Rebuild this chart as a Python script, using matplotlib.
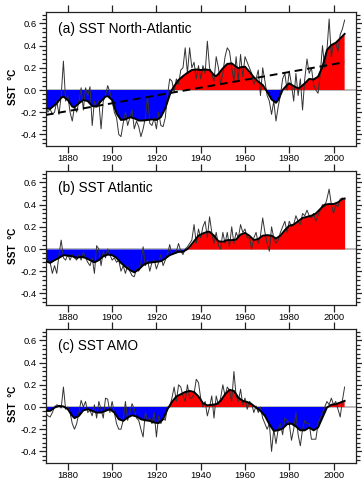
import matplotlib
matplotlib.use("Agg")
import matplotlib.pyplot as plt
from matplotlib.ticker import MultipleLocator, AutoMinorLocator
import numpy as np

plt.rcParams['font.family'] = ['Liberation Sans', 'DejaVu Sans']

years = list(range(1870, 2006))

# (a) North-Atlantic SST anomalies, annual
na_raw = [-0.15, -0.20, -0.17, -0.22, -0.20, -0.10, -0.22, -0.05, 0.26, -0.10,
          -0.05, -0.20, -0.28, -0.15, -0.20, -0.10, 0.02, -0.18, 0.02, -0.05,
          0.03, -0.32, -0.10, -0.15, -0.10, -0.35, -0.10, -0.05, 0.04, -0.02,
          -0.10, -0.20, -0.25, -0.40, -0.42, -0.30, -0.20, -0.32, -0.25, -0.18,
          -0.35, -0.28, -0.33, -0.42, -0.35, -0.25, -0.05, -0.30, -0.32, -0.25,
          -0.35, -0.20, -0.32, -0.33, -0.25, -0.05, 0.10, 0.08, -0.02, 0.10,
          0.05, 0.18, 0.20, 0.38, 0.15, 0.38, 0.20, 0.25, 0.10, 0.22,
          0.10, 0.22, 0.15, 0.44, 0.20, 0.15, 0.08, 0.30, 0.20, 0.05,
          0.15, 0.30, 0.38, 0.35, 0.20, 0.08, 0.30, 0.08, 0.32, 0.12,
          0.30, 0.25, 0.20, 0.15, 0.05, 0.10, 0.18, -0.05, 0.20, 0.08,
          -0.05, -0.10, -0.22, -0.10, -0.28, -0.15, -0.05, 0.10, 0.15, 0.00,
          0.17, 0.05, -0.10, 0.15, -0.05, 0.10, -0.18, 0.10, 0.28, 0.15,
          0.20, 0.05, 0.00, -0.03, 0.15, 0.40, 0.20, 0.35, 0.64, 0.30,
          0.42, 0.42, 0.35, 0.50, 0.55, 0.63]
na_smooth_years = [1870, 1872, 1875, 1877, 1878, 1880, 1882, 1883, 1885, 1887,
                   1889, 1891, 1893, 1895, 1897, 1898, 1900, 1902, 1904, 1906,
                   1908, 1910, 1912, 1914, 1916, 1918, 1920, 1922, 1924, 1926,
                   1927, 1928, 1930, 1932, 1934, 1936, 1938, 1940, 1942, 1944,
                   1946, 1947, 1948, 1950, 1952, 1954, 1956, 1957, 1958, 1960,
                   1962, 1964, 1966, 1968, 1970, 1972, 1974, 1975, 1977, 1979,
                   1980, 1982, 1984, 1985, 1987, 1989, 1991, 1993, 1995, 1997,
                   1999, 2001, 2003, 2005]
na_smooth = [-0.165, -0.17, -0.12, -0.07, -0.06, -0.09, -0.15, -0.155, -0.12, -0.09,
             -0.10, -0.145, -0.15, -0.10, -0.06, -0.055, -0.09, -0.21, -0.27, -0.265,
             -0.245, -0.255, -0.275, -0.275, -0.27, -0.265, -0.27, -0.245, -0.165, -0.045,
             0.0, 0.035, 0.09, 0.125, 0.155, 0.18, 0.185, 0.18, 0.185, 0.18,
             0.135, 0.125, 0.145, 0.195, 0.235, 0.24, 0.21, 0.195, 0.205, 0.21,
             0.165, 0.115, 0.075, 0.045, -0.015, -0.085, -0.115, -0.09, 0.0, 0.045,
             0.06, 0.035, 0.015, 0.025, 0.06, 0.10, 0.095, 0.12, 0.21, 0.36,
             0.405, 0.425, 0.465, 0.505]
na_trend_years = [1870, 2005]
na_trend = [-0.225, 0.25]

# (b) Atlantic SST anomalies, annual
at_raw = [-0.12, -0.10, -0.12, -0.22, -0.15, -0.22, -0.05, 0.08, -0.08, -0.10,
          -0.05, -0.10, -0.05, -0.08, -0.10, -0.05, -0.10, -0.03, -0.08, -0.12,
          -0.15, -0.08, -0.22, 0.03, 0.00, -0.15, -0.02, -0.08, 0.00, -0.05,
          -0.10, -0.08, -0.12, -0.10, -0.20, -0.15, -0.22, -0.15, -0.20, -0.24,
          -0.25, -0.18, -0.20, -0.12, 0.02, -0.15, -0.10, -0.20, -0.12, -0.10,
          -0.18, -0.12, -0.05, -0.15, -0.10, -0.05, 0.04, -0.05, -0.03, -0.02,
          0.05, -0.02, -0.05, 0.00, 0.02, 0.05, 0.08, 0.22, 0.05, 0.18,
          0.10, 0.20, 0.25, 0.10, 0.29, 0.15, 0.05, 0.15, 0.03, 0.00,
          0.15, 0.05, 0.15, 0.02, 0.20, 0.05, 0.15, 0.10, 0.22, 0.15,
          0.18, 0.10, 0.10, 0.00, 0.10, 0.15, 0.05, 0.12, 0.28, 0.15,
          0.05, -0.02, 0.20, 0.10, 0.05, 0.08, 0.15, 0.20, 0.25, 0.15,
          0.25, 0.20, 0.22, 0.30, 0.25, 0.22, 0.32, 0.30, 0.35, 0.30,
          0.28, 0.32, 0.25, 0.30, 0.35, 0.40, 0.38, 0.45, 0.54, 0.40,
          0.32, 0.40, 0.38, 0.45, 0.46, 0.45]
at_smooth_years = [1870, 1872, 1874, 1876, 1878, 1880, 1882, 1884, 1886, 1888,
                   1890, 1892, 1894, 1896, 1898, 1900, 1902, 1904, 1906, 1908,
                   1910, 1912, 1914, 1916, 1918, 1920, 1922, 1924, 1926, 1928,
                   1930, 1932, 1934, 1935, 1937, 1939, 1941, 1943, 1944, 1946,
                   1948, 1950, 1952, 1954, 1956, 1958, 1960, 1962, 1964, 1966,
                   1968, 1970, 1972, 1974, 1976, 1978, 1980, 1982, 1984, 1986,
                   1988, 1990, 1992, 1994, 1996, 1998, 2000, 2002, 2004, 2005]
at_smooth = [-0.11, -0.125, -0.10, -0.08, -0.055, -0.06, -0.065, -0.08, -0.07, -0.08,
             -0.10, -0.12, -0.10, -0.065, -0.05, -0.055, -0.08, -0.125, -0.16, -0.19,
             -0.21, -0.185, -0.145, -0.125, -0.12, -0.115, -0.11, -0.085, -0.055, -0.04,
             -0.025, -0.025, 0.0, 0.02, 0.07, 0.12, 0.14, 0.155, 0.155, 0.12,
             0.07, 0.065, 0.08, 0.08, 0.085, 0.13, 0.145, 0.12, 0.08, 0.09,
             0.12, 0.125, 0.12, 0.095, 0.12, 0.17, 0.21, 0.22, 0.25, 0.28,
             0.29, 0.30, 0.32, 0.36, 0.40, 0.405, 0.405, 0.42, 0.45, 0.455]

# (c) AMO index, annual
amo_raw = [-0.05, -0.08, -0.09, -0.05, 0.00, 0.02, 0.01, -0.01, 0.18, -0.02,
           0.00, -0.05, -0.15, -0.20, -0.15, -0.05, 0.06, 0.00, 0.05, -0.05,
           -0.03, -0.08, 0.02, -0.10, 0.05, -0.02, -0.10, 0.08, 0.07, -0.05,
           0.05, -0.05, -0.15, -0.20, -0.20, -0.12, 0.05, -0.12, -0.05, 0.03,
           -0.02, -0.10, -0.12, -0.20, -0.27, -0.05, -0.12, -0.10, -0.15, -0.05,
           -0.27, -0.08, -0.15, -0.10, -0.12, 0.00, 0.00, 0.08, 0.18, 0.05,
           0.20, 0.18, 0.10, 0.05, 0.20, 0.08, 0.08, 0.12, 0.25, 0.22,
           0.08, 0.00, 0.05, -0.08, 0.00, 0.10, -0.10, 0.10, 0.02, 0.08,
           0.20, 0.10, 0.18, 0.15, 0.05, 0.32, 0.10, 0.05, 0.16, 0.02,
           0.08, -0.02, 0.05, 0.03, -0.05, 0.01, -0.05, 0.00, -0.10, -0.15,
           -0.20, -0.15, -0.40, -0.20, -0.33, -0.20, -0.15, -0.25, -0.10, -0.12,
           -0.15, -0.30, -0.20, -0.05, -0.25, -0.35, -0.20, -0.12, -0.15, -0.15,
           -0.29, -0.29, -0.29, -0.15, -0.10, -0.05, 0.00, 0.05, 0.02, 0.08,
           0.02, 0.05, -0.02, -0.09, 0.06, 0.18]
amo_smooth_years = [1870, 1872, 1874, 1876, 1878, 1880, 1882, 1883, 1885, 1887,
                    1889, 1891, 1893, 1895, 1897, 1899, 1901, 1903, 1905, 1907,
                    1909, 1911, 1913, 1915, 1917, 1919, 1921, 1923, 1925, 1927,
                    1929, 1931, 1933, 1935, 1937, 1939, 1941, 1943, 1945, 1947,
                    1949, 1951, 1953, 1955, 1957, 1959, 1961, 1963, 1965, 1967,
                    1969, 1971, 1973, 1975, 1977, 1979, 1981, 1983, 1985, 1987,
                    1989, 1991, 1993, 1995, 1997, 1999, 2001, 2003, 2005]
amo_smooth = [-0.035, -0.035, -0.005, 0.01, 0.005, -0.02, -0.08, -0.10, -0.08, -0.03,
              -0.02, -0.035, -0.05, -0.05, -0.035, -0.02, -0.05, -0.11, -0.125, -0.095,
              -0.075, -0.085, -0.11, -0.12, -0.125, -0.14, -0.145, -0.11, -0.02, 0.045,
              0.095, 0.115, 0.135, 0.145, 0.135, 0.095, 0.035, 0.015, 0.02, 0.025,
              0.055, 0.115, 0.155, 0.145, 0.085, 0.055, 0.045, 0.025, -0.005, -0.035,
              -0.08, -0.155, -0.215, -0.21, -0.195, -0.155, -0.15, -0.175, -0.21, -0.21,
              -0.185, -0.21, -0.185, -0.095, -0.005, 0.02, 0.025, 0.04, 0.055]

titles = ["(a) SST North-Atlantic", "(b) SST Atlantic", "(c) SST AMO"]
raws = [na_raw, at_raw, amo_raw]
smooth_x = [na_smooth_years, at_smooth_years, amo_smooth_years]
smooth_y = [na_smooth, at_smooth, amo_smooth]

fig = plt.figure(figsize=(3.62, 4.79), dpi=100)
left, width = 45.7 / 362, 310 / 362
tops = [12.3, 171.3, 329.3]
h = 133.2

for i in range(3):
    top = tops[i]
    ax = fig.add_axes([left, 1 - (top + h) / 479, width, h / 479])
    sx = np.array(smooth_x[i], dtype=float)
    sy = np.array(smooth_y[i], dtype=float)
    ax.axhline(0, color='#b4b4b4', lw=1.3, zorder=1)
    ax.fill_between(sx, sy, 0, where=sy >= 0, interpolate=True,
                    color='#ff0000', lw=0, zorder=2)
    ax.fill_between(sx, sy, 0, where=sy <= 0, interpolate=True,
                    color='#0000ff', lw=0, zorder=2)
    ax.plot(years, raws[i], color='#333333', lw=0.7, zorder=3)
    ax.plot(sx, sy, color='black', lw=1.4, zorder=4)
    if i == 0:
        ax.plot(na_trend_years, na_trend, color='black', lw=1.4,
                ls=(0, (4, 2.5)), zorder=5)
    ax.set_xlim(1870, 2010)
    ax.set_ylim(-0.5, 0.7)
    ax.set_xticks([1880, 1900, 1920, 1940, 1960, 1980, 2000])
    ax.set_yticks([-0.4, -0.2, 0.0, 0.2, 0.4, 0.6])
    ax.set_yticklabels(['-0.4', '-0.2', '0.0', '0.2', '0.4', '0.6'])
    ax.yaxis.set_minor_locator(AutoMinorLocator(5))
    ax.tick_params(axis='both', which='both', direction='out',
                   top=True, right=True, labelsize=6.8, color='#222222',
                   width=0.9)
    ax.tick_params(axis='x', which='major', length=5, pad=0.8)
    ax.tick_params(axis='y', which='major', length=5, pad=1.2)
    ax.tick_params(axis='y', which='minor', length=2.8)
    for sp in ax.spines.values():
        sp.set_linewidth(0.9)
        sp.set_color('#222222')
    ax.text(0.04, 0.875, titles[i], transform=ax.transAxes, fontsize=9.8,
            ha='left', va='center')
    ax.set_ylabel("SST  \u00b0C", fontsize=7.2, fontweight='bold')
    ax.yaxis.set_label_coords(-0.088, 0.44)

fig.savefig("out.png", dpi=100)
